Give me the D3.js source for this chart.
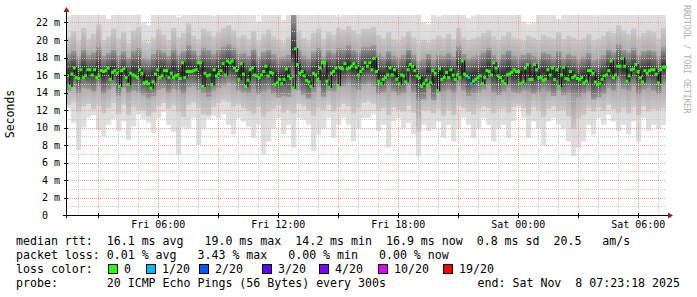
<!DOCTYPE html>
<html>
<head>
<meta charset="utf-8">
<script src="https://cdn.jsdelivr.net/npm/d3@7"></script>
<style>
  body { margin: 0; background: #fff; }
  text { font-family: "DejaVu Sans Mono", monospace; white-space: pre; }
</style>
</head>
<body>
<div id="chart"></div>
<script>
// time window of the graph
var startTime = new Date(2025, 10, 7, 1, 23, 18)
var endTime = new Date(2025, 10, 8, 7, 23, 18)

// median rtt (ms), one value per step across the window
var medianRtt = [
  15.9,14.7,16.1,16.8,15.7,15.6,16.6,15.7,15.9,16.6, 16.6,16.0,16.6,15.7,15.9,16.5,16.4,16.5,16.8,15.5,
  16.3,16.5,16.2,14.7,16.5,16.7,15.7,14.9,16.2,16.0, 15.9,15.7,16.6,16.2,15.1,15.2,15.0,14.5,15.2,16.1,
  16.6,15.7,15.9,16.5,16.5,15.7,16.2,15.7,15.9,16.0, 15.6,17.4,15.7,16.4,16.4,16.4,16.5,16.6,17.4,17.4,
  14.7,16.2,15.9,16.0,14.9,16.6,15.9,
  16.1,16.5,17.3,16.0,17.6,17.4,17.6,16.8,16.5, 15.5,17.3,16.1,14.7,15.4,16.6,16.8,16.0,15.9,15.7,
  16.0,16.4,17.0,15.9,16.3,16.2,14.9,15.1,15.5,15.0, 15.5,16.7,15.9,15.6,14.5,19.0,17.2,16.2,16.4,15.9,
  15.4,15.2,14.7,16.2,16.0,15.5,16.8,17.4,17.4,15.3, 14.6,16.2,16.4,16.8,14.8,16.8,16.7,17.3,16.7,16.8,
  17.0,17.3,16.9,16.0,16.4,16.7,17.4,17.0,
  17.4,16.6,17.9,16.4,15.3,15.0,15.5,15.7,16.0,16.8, 16.0,16.6,15.5,15.0,16.0,15.9,15.2,16.6,17.2,17.0,
  16.5,15.9,15.7,14.7,15.0,15.4,14.9,15.1,16.5,16.2, 14.2,16.7,15.5,15.7,16.3,15.7,16.6,16.0,15.5,16.0,
  15.7,17.6,16.1,15.9,15.7,15.0,15.3,15.5,15.7,15.9, 15.0,15.7,16.5,16.4,16.0,17.4,16.8,15.9,15.7,15.3,
  15.0,16.0,16.1,16.3,16.6,16.4,16.4,15.0,
  15.2,16.8,17.2,15.5,15.5,17.2,16.6,15.7,15.7,15.4, 15.5,16.6,16.0,16.8,15.5,16.6,14.7,16.0,16.9,15.6,
  15.5,16.4,15.7,15.9,15.6,15.5,15.7,15.1,15.3,16.5, 16.5,16.2,15.2,14.9,15.0,15.5,15.9,16.0,16.5,17.6,
  15.7,16.0,17.0,17.0,17.9,17.0,15.3,15.9,16.6,16.7, 17.2,16.4,15.7,15.2,16.5,16.2,16.5,16.6,16.6,16.1,
  15.1,16.6,16.9,16.9
]
// steps that lost pings: [step index, lost of 20]
var lossSteps = [[178, 1], [179, 1]]

// smoke: ping distribution per 15 minute bin (ms)
var pingMax = [
  22.2,23,23,22.5,23,23,22.8,23,21.9,23, 23,23,22.4,23,23,21.5,21.2,22.6,23,23, 22.9,23,22.1,23,23,23,22.7,23,23,22.3,
  23,23,22.8,23,23,23,22.4,23,21.6,23, 23,23,22.9,21.8,23,23,23,22.5,23,23, 23,22.7,23,23,22.2,23,23,22.9,23,23,
  23,23,22.6,23,23,22.9,23,23,23,22.4, 23,21.5,21.3,23,22.2,22.4,23,23,23,23, 22.0,22.3,23,23,22.8,23,23,22.6,23,23,
  23,21.6,21.3,21.5,23,23,22.7,23,21.9,23, 23,23,22.6,23,23,23,22.3,23,23,23, 22.5,23,23,22.8,23,23,23,22.9,23,23
]
var ping85 = [
  19.8,20.5,19.4,20.9,19.6,20.2,21.3,19.5,19.9,20.8, 19.7,20.4,19.2,20.6,21.0,19.3,19.1,19.8,20.7,20.1, 19.5,20.9,19.8,20.3,21.4,20.0,19.6,20.8,20.5,19.9,
  20.4,20.9,21.2,20.6,19.8,20.1,19.6,20.5,19.4,20.2, 20.7,19.9,19.5,19.3,19.8,23,20.6,19.7,19.4,20.3, 20.8,19.6,20.4,20.1,20.9,20.7,21.1,20.6,20.2,20.8,
  20.8,21.0,20.1,19.7,20.4,19.6,19.4,19.9,20.5,19.8, 19.2,19.5,19.3,19.6,20.0,19.7,20.2,19.6,20.9,19.8, 19.5,19.7,19.9,20.3,20.6,19.9,19.5,20.0,20.4,19.8,
  19.6,19.4,20.0,19.8,19.5,20.1,19.9,19.7,20.4,19.6, 20.0,19.8,19.5,19.7,20.2,19.4,19.6,20.0,20.5,20.3, 21.2,20.6,20.2,20.8,19.9,20.3,20.6,20.4,19.7,20.9
]
var ping70 = [
  17.9,18.3,17.6,18.5,17.8,18.1,18.7,17.7,18.0,18.4, 17.8,18.2,17.5,18.3,18.6,17.4,17.3,17.9,18.4,18.1, 17.7,18.5,17.9,18.2,18.9,18.3,17.8,18.6,18.4,17.9,
  18.4,18.7,19.0,18.6,17.9,18.0,17.7,18.5,17.6,18.1, 18.4,17.9,17.5,17.6,17.8,22.5,18.4,17.7,17.4,18.1, 18.6,17.6,18.3,18.0,18.6,18.5,18.9,18.4,18.1,18.7,
  18.7,18.9,18.0,17.6,18.2,17.7,17.5,17.8,18.5,17.8, 17.1,17.3,17.9,17.2,17.8,17.7,18.0,17.6,18.8,17.9, 17.4,17.6,17.8,18.1,18.6,17.8,17.4,17.9,18.3,17.7,
  17.6,17.8,18.0,17.7,17.5,18.1,17.9,17.6,18.2,17.5, 17.9,17.7,17.3,17.6,18.0,17.2,17.4,17.8,18.5,18.1, 19.0,18.4,18.1,18.6,17.8,18.2,18.4,18.2,17.6,18.7
]
var ping30 = [
  14.2,14.6,13.9,14.5,14.4,14.1,14.7,13.8,14.3,14.6, 13.6,14.5,13.9,14.2,14.0,13.7,13.4,13.6,14.3,14.5, 14.0,14.4,14.2,13.8,14.6,14.7,14.3,13.9,13.5,14.2,
  14.5,14.8,15.1,14.9,14.2,14.0,13.9,14.4,13.8,14.1, 14.3,13.8,13.4,13.6,13.5,15.0,14.2,13.7,13.3,14.0, 14.6,13.5,14.2,14.1,14.8,14.7,15.0,14.6,14.3,14.8,
  15.0,14.7,13.8,14.0,14.6,14.1,13.7,13.9,14.8,14.0, 13.0,13.2,14.4,13.1,14.0,14.1,14.3,14.0,14.7,14.2, 13.6,13.9,14.0,14.3,14.8,14.0,13.7,14.1,14.5,14.0,
  13.9,14.2,14.1,13.8,14.0,14.3,14.1,13.6,14.2,13.7, 13.9,13.6,13.5,13.8,14.1,13.2,13.4,13.8,14.5,14.2, 14.9,14.4,14.2,14.7,13.8,14.3,14.5,14.2,13.8,14.8
]
var ping15 = [
  12.6,12.9,11.8,12.4,12.7,12.1,12.5,11.6,12.2,12.8, 11.5,12.6,11.4,12.3,12.0,11.9,11.3,11.7,12.4,12.8, 12.1,12.5,11.8,11.2,12.6,12.9,12.2,11.5,11.4,12.3,
  12.8,13.1,12.9,12.4,12.6,12.2,11.9,11.5,12.3,11.2, 11.8,12.1,12.5,11.7,12.0,11.6,12.7,12.4,11.9,11.3, 12.2,12.0,12.6,11.8,12.3,12.7,12.4,11.6,12.2,12.8,
  13.0,12.7,11.9,12.2,11.4,12.3,12.0,11.8,12.5,11.7, 9.5,11.9,12.0,11.6,12.1,11.3,12.0,11.4,12.5,12.2, 11.8,11.5,12.1,12.4,12.2,11.6,12.1,12.2,11.7,12.3,
  12.5,12.2,11.4,12.3,12.0,11.2,12.1,12.4,11.9,12.0, 11.3,9.8,11.0,11.4,12.2,11.8,12.3,11.9,12.6,12.1, 11.7,12.2,11.6,12.3,11.4,12.4,11.8,12.1,12.0,12.2
]
var pingMin = [
  12.2,10.5,7.4,10.0,11.1,11.4,9.7,9.0,10.3,11.0, 9.6,10.7,8.6,10.1,11.5,11.0,10.5,9.4,11.1,11.8, 10.3,9.5,6.9,10.0,9.9,11.1,8.0,9.9,11.0,11.3,
  11.1,11.5,10.3,9.2,11.1,10.7,10.1,8.8,10.3,6.9, 8.4,9.9,11.1,9.2,10.3,7.7,11.1,10.9,10.3,7.3, 9.2,9.9,11.1,8.8,10.3,11.1,10.3,8.4,9.9,11.1,
  11.1,11.5,9.6,10.3,7.7,10.7,11.1,9.9,10.5,9.2, 6.7,10.3,9.6,9.9,10.7,8.8,10.3,8.4,9.9,11.1, 10.3,8.8,9.9,11.1,10.3,8.4,9.9,10.3,8.8,10.7,
  12.2,11.1,8.8,10.7,9.9,8.0,10.7,11.1,10.3,9.9, 8.4,6.7,7.7,8.4,10.3,9.2,11.1,10.3,11.5,10.7, 9.6,10.3,9.2,10.7,8.4,11.1,9.6,10.3,9.9,10.3
]

var yTicks = [0, 2, 4, 6, 8, 10, 12, 14, 16, 18, 20, 22]

var lossLabels = ["0", "1/20", "2/20", "3/20", "4/20", "10/20", "19/20"]
var lossColors = ["#26ff00", "#00b8ff", "#0059ff", "#5e00ff", "#7e00ff", "#dd00ff", "#ff0000"]
var lossBoxX = [108, 146, 199, 262, 319, 378, 443]

var legendLines = [
  "median rtt:  16.1 ms avg   19.0 ms max  14.2 ms min  16.9 ms now  0.8 ms sd  20.5   am/s",
  "packet loss: 0.01 % avg   3.43 % max   0.00 % min   0.00 % now",
  "loss color:",
  "probe:       20 ICMP Echo Pings (56 Bytes) every 300s"
]
var endLabel = "end: Sat Nov  8 07:23:18 2025"

var width = 697, height = 297
var plot = {left: 66, right: 666, top: 15, bottom: 215}

var svg = d3.select("#chart").append("svg")
            .attr("width", width)
            .attr("height", height)

var x = d3.scaleTime().domain([startTime, endTime]).range([plot.left, plot.right])
var y = d3.scaleLinear().domain([0, 200 / 8.75]).range([plot.bottom, plot.top])

var defs = svg.append("defs")
defs.append("clipPath").attr("id", "plotClip")
  .append("rect")
  .attr("x", plot.left).attr("y", plot.top)
  .attr("width", plot.right - plot.left).attr("height", plot.bottom - plot.top)

//each smoke band gets darker towards its middle
var bands = [
  {lo: pingMin, hi: pingMax, id: "smoke0", stops: ["#e0e0e0", "#d2d2d2"]},
  {lo: ping15, hi: ping85, id: "smoke1", stops: ["#cacaca", "#8e8e8e"]},
  {lo: ping30, hi: ping70, id: "smoke2", stops: ["#9c9c9c", "#333333"]}
]
bands.forEach(function(band){
  var g = defs.append("linearGradient").attr("id", band.id)
    .attr("x1", 0).attr("x2", 0).attr("y1", 0).attr("y2", 1)
  g.append("stop").attr("offset", "0%").attr("stop-color", band.stops[0])
  g.append("stop").attr("offset", "50%").attr("stop-color", band.stops[1])
  g.append("stop").attr("offset", "100%").attr("stop-color", band.stops[0])
})

//smoke, outer band first
var binMs = 15 * 60 * 1000
var bins = pingMax.map(function(d, i){
  return {t: new Date(+startTime + i * binMs), i: i}
})
var smoke = svg.append("g").attr("clip-path", "url(#plotClip)")
bands.forEach(function(band){
  smoke.append("g").selectAll("rect").data(bins).enter().append("rect")
    .attr("x", function(d){ return x(d.t) })
    .attr("width", function(d){ return x(new Date(+d.t + binMs)) - x(d.t) + 0.3 })
    .attr("y", function(d){ return y(band.hi[d.i] + 0.5) })
    .attr("height", function(d){ return y(band.lo[d.i]) - y(band.hi[d.i] + 0.5) })
    .style("fill", "url(#" + band.id + ")")
})

//grid
var grid = svg.append("g").attr("class", "grid")
var minorY = d3.range(1, 23, 2)
grid.selectAll(".minorY").data(minorY).enter().append("line")
  .attr("x1", plot.left).attr("x2", plot.right)
  .attr("y1", function(d){ return Math.round(y(d)) + 0.5 })
  .attr("y2", function(d){ return Math.round(y(d)) + 0.5 })
  .style("stroke", "#c8c8c8").style("stroke-dasharray", "1,1")
grid.selectAll(".majorY").data(yTicks.slice(1)).enter().append("line")
  .attr("x1", plot.left).attr("x2", plot.right)
  .attr("y1", function(d){ return Math.round(y(d)) + 0.5 })
  .attr("y2", function(d){ return Math.round(y(d)) + 0.5 })
  .style("stroke", "#eea0a0").style("stroke-dasharray", "1,1")
var hours = x.ticks(d3.timeHour.every(1))
grid.selectAll(".minorX").data(hours.filter(function(d){ return d.getHours() % 3 != 0 })).enter().append("line")
  .attr("y1", plot.top).attr("y2", plot.bottom)
  .attr("x1", function(d){ return Math.round(x(d)) + 0.5 })
  .attr("x2", function(d){ return Math.round(x(d)) + 0.5 })
  .style("stroke", "#c8c8c8").style("stroke-dasharray", "1,1")
grid.selectAll(".majorX").data(hours.filter(function(d){ return d.getHours() % 3 == 0 })).enter().append("line")
  .attr("y1", plot.top).attr("y2", plot.bottom)
  .attr("x1", function(d){ return Math.round(x(d)) + 0.5 })
  .attr("x2", function(d){ return Math.round(x(d)) + 0.5 })
  .style("stroke", "#eea0a0").style("stroke-dasharray", "1,1")

//median: dark connectors then loss coloured dots
var stepMs = (endTime - startTime) / medianRtt.length
var med = medianRtt.map(function(d, i){
  var lost = 0
  lossSteps.forEach(function(l){ if (l[0] == i) lost = l[1] })
  return {t: new Date(+startTime + i * stepMs), v: d, loss: lost}
})
var lossColor = function(n){
  var idx = [0, 1, 2, 3, 4, 10, 19].indexOf(n)
  return lossColors[idx < 0 ? 0 : idx]
}
var medLine = d3.line()
  .x(function(d){ return x(d.t) + 1.5 })
  .y(function(d){ return y(d.v) })
  .curve(d3.curveStepAfter)
svg.append("path").datum(med)
  .attr("d", medLine)
  .style("fill", "none")
  .style("stroke", "#151515")
  .style("stroke-width", 1.2)
svg.append("g").selectAll("rect").data(med).enter().append("rect")
  .attr("x", function(d){ return x(d.t) })
  .attr("y", function(d){ return y(d.v) - 1.5 })
  .attr("width", 3)
  .attr("height", 3)
  .style("fill", function(d){ return lossColor(d.loss) })

//axes
svg.append("line")
  .attr("x1", plot.left - 3).attr("x2", plot.right + 3)
  .attr("y1", plot.bottom + 0.5).attr("y2", plot.bottom + 0.5)
  .style("stroke", "#000")
svg.append("line")
  .attr("x1", plot.left + 0.5).attr("x2", plot.left + 0.5)
  .attr("y1", plot.bottom + 3).attr("y2", plot.top - 4)
  .style("stroke", "#000")
svg.append("path")
  .attr("d", `M${plot.right + 2},${plot.bottom - 2.5} L${plot.right + 7},${plot.bottom + 0.5} L${plot.right + 2},${plot.bottom + 3.5} Z`)
  .style("fill", "#a01818")
svg.append("path")
  .attr("d", `M${plot.left - 2.5},${plot.top - 3} L${plot.left + 0.5},${plot.top - 8} L${plot.left + 3.5},${plot.top - 3} Z`)
  .style("fill", "#a01818")

//ticks on axes
svg.append("g").selectAll("line").data(yTicks).enter().append("line")
  .attr("x1", plot.left - 2).attr("x2", plot.left + 2)
  .attr("y1", function(d){ return Math.round(y(d)) + 0.5 })
  .attr("y2", function(d){ return Math.round(y(d)) + 0.5 })
  .style("stroke", "#000")
svg.append("g").selectAll("line").data(hours.filter(function(d){ return d.getHours() % 3 == 0 })).enter().append("line")
  .attr("x1", function(d){ return Math.round(x(d)) + 0.5 })
  .attr("x2", function(d){ return Math.round(x(d)) + 0.5 })
  .attr("y1", plot.bottom - 2).attr("y2", plot.bottom + 3)
  .style("stroke", "#000")

//y labels
svg.append("g").selectAll("text").data(yTicks).enter().append("text")
  .attr("x", 60)
  .attr("y", function(d){ return y(d) + 3.5 })
  .attr("text-anchor", "end")
  .style("font-size", "10px")
  .text(function(d){ return d == 0 ? "0  " : d + " m" })

//x labels
var labelFormat = d3.timeFormat("%a %H:%M")
svg.append("g").selectAll("text").data(x.ticks(d3.timeHour.every(6))).enter().append("text")
  .attr("x", function(d){ return x(d) })
  .attr("y", 228)
  .attr("text-anchor", "middle")
  .style("font-size", "10px")
  .text(function(d){ return labelFormat(d) })

//axis title and watermark
svg.append("text")
  .attr("transform", "translate(14,114) rotate(-90)")
  .attr("text-anchor", "middle")
  .style("font-size", "11.5px")
  .text("Seconds")
svg.append("text")
  .attr("transform", "translate(684,5) rotate(90)")
  .style("font-size", "8.2px")
  .style("fill", "#b0b0b0")
  .text("RRDTOOL / TOBI OETIKER")

//legend
svg.append("g").selectAll("text").data(legendLines).enter().append("text")
  .attr("x", 16)
  .attr("y", function(d, i){ return 244.5 + i * 14 })
  .style("font-size", "11.6px")
  .text(function(d){ return d })
svg.append("text")
  .attr("x", 680)
  .attr("y", 244.5 + 3 * 14)
  .attr("text-anchor", "end")
  .style("font-size", "11.6px")
  .text(endLabel)
var lossLegend = svg.append("g").selectAll("g").data(lossLabels).enter().append("g")
lossLegend.append("rect")
  .attr("x", function(d, i){ return lossBoxX[i] + 0.5 })
  .attr("y", 264.5)
  .attr("width", 9).attr("height", 9)
  .style("fill", function(d, i){ return lossColors[i] })
  .style("stroke", "#000")
lossLegend.append("text")
  .attr("x", function(d, i){ return lossBoxX[i] + 16 })
  .attr("y", 244.5 + 2 * 14)
  .style("font-size", "11.6px")
  .text(function(d){ return d })
</script>
</body>
</html>
